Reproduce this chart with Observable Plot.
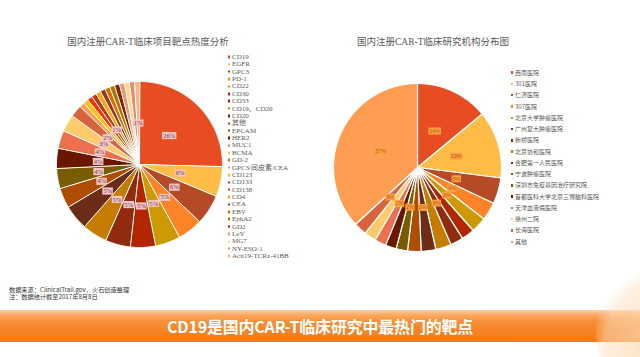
<!DOCTYPE html>
<html><head><meta charset="utf-8">
<script src="https://cdn.jsdelivr.net/npm/d3@7"></script>
<script src="https://cdn.jsdelivr.net/npm/@observablehq/plot@0.6"></script>
<style>
html,body{margin:0;padding:0;background:#fff;}
#page{position:relative;width:640px;height:357px;overflow:hidden;background:#fff;}
.title{position:absolute;font-family:"Liberation Serif","Noto Sans CJK SC",serif;font-size:9.5px;color:#595959;white-space:nowrap;transform:translate(-50%,-50%);line-height:1;}
.pie{position:absolute;}
.leg{position:absolute;white-space:nowrap;color:#595959;line-height:1;}
.leg .row{position:absolute;left:0;transform:translateY(-50%);display:flex;align-items:center;}
.leg .mk{display:inline-block;margin-right:2px;}
.note{position:absolute;left:9px;font-family:"Noto Sans CJK SC",sans-serif;font-size:6.2px;color:#333;white-space:nowrap;line-height:6.4px;}
.banner{position:absolute;left:0;top:310px;width:640px;height:32px;
 background:linear-gradient(to bottom,#fbd3ac 0px,#f9ae6a 4px,#f7913a 11px,#f58223 22px,#f47b1e 32px);}
.banner span{position:absolute;left:50%;top:50%;transform:translate(-50%,-52%);color:#fff;font-family:"Noto Sans CJK SC",sans-serif;font-weight:700;font-size:16px;white-space:nowrap;letter-spacing:-0.2px;}
.deco{position:absolute;left:596px;top:262px;width:110px;height:140px;border-radius:50%;
 background:radial-gradient(circle at 70% 60%,rgba(252,214,170,0.9),rgba(252,225,195,0.5) 60%,rgba(255,255,255,0) 72%);}
</style></head><body><div id="page"></div>
<script>
// ---------- data ----------
const targetCats = ["CD19","EGFR","GPC3","PD-1","CD22","CD30","CD33","CD19、CD20","CD20","其他","EPCAM","HER2","MUC1","BCMA","GD-2","GPC3/间皮素/CEA","CD123","CD133","CD138","CD4","CEA","EBV","EphA2","GD2","LeY","MG7","NY-ESO-1","Acti19-TCRz-41BB"];
const targetShares = [26,6,6,5,5,5,5,5,5,4,4,4,3.6,3.4,2.4,1,1,1,1,1,1,1,1,1,1,1,1,1];
const targetLabelled = ["CD19","EGFR","GPC3","PD-1","CD22","CD30","CD33","CD19、CD20","CD20","其他","EPCAM","HER2","MUC1","BCMA","GD-2","CD138","Acti19-TCRz-41BB"];

const instCats = ["西南医院","301医院","仁济医院","307医院","北京大学肿瘤医院","广州复大肿瘤医院","新桥医院","北京协和医院","合肥第一人民医院","宁波肿瘤医院","深圳市免疫基因治疗研究院","首都医科大学北京三博脑科医院","天津血液病医院","徐州二院","长海医院","其他"];
const instShares = [14,13,5,3.5,3,2.5,2.5,3,2.8,2.6,2.2,2.1,2.2,2.3,2.5,36.8];
const instLabelled = ["西南医院","301医院","仁济医院","307医院","北京大学肿瘤医院","新桥医院","合肥第一人民医院","深圳市免疫基因治疗研究院","天津血液病医院","长海医院","其他"];

const titleLeft = "国内注册CAR-T临床项目靶点热度分析";
const titleRight = "国内注册CAR-T临床研究机构分布图";
const noteLines = ["数据来源：ClinicalTrail.gov，火石创造整理","注：数据统计截至2017年8月8日"];
const bannerText = "CD19是国内CAR-T临床研究中最热门的靶点";

// ---------- palette (Office "Red Orange" theme accents + lum variants) ----------
const themeAccents = ["#E84C22","#FFBD47","#B64926","#FF8427","#CC9900","#B22600"];
const lumSteps = [[1,0],[0.6,0],[0.8,0.2],[0.8,0],[0.6,0.4],[0.5,0]];
function palette(n){
  return d3.range(n).map(i=>{
    const [m,o] = lumSteps[Math.floor(i/6)%lumSteps.length];
    const c = d3.hsl(themeAccents[i%6]);
    c.l = c.l*m + o;
    return c.formatHex();
  });
}

const page = document.getElementById("page");

function boxSymbol(w,h){ return {draw(ctx){ ctx.rect(-w/2,-h/2,w,h); }}; }

function pieChart({cats, vals, colors, cx, cy, r, labelR, showLabel, boxFill, textFill, fontSize, fontFamily, charW, boxH, strokeW}){
  const total = d3.sum(vals);
  const pts = [], labels = [];
  let acc = 0;
  cats.forEach((c,i)=>{
    const a0 = acc/total*2*Math.PI; acc += vals[i]; const a1 = acc/total*2*Math.PI;
    pts.push({c, x:0, y:0});
    const n = Math.max(2, Math.ceil((a1-a0)/0.01));
    for(let k=0;k<=n;k++){ const a=a0+(a1-a0)*k/n; pts.push({c, x:Math.sin(a), y:Math.cos(a)}); }
    const am = (a0+a1)/2;
    if(showLabel(c)) labels.push({c, x:labelR*Math.sin(am), y:labelR*Math.cos(am), t:Math.round(vals[i])+"%"});
  });
  const m = 4, S = 2*r + 2*m;
  const lens = [...new Set(labels.map(d=>d.t.length))];
  const chart = Plot.plot({
    width:S, height:S, marginTop:m, marginBottom:m, marginLeft:m, marginRight:m,
    x:{domain:[-1,1], axis:null}, y:{domain:[-1,1], axis:null},
    color:{domain:cats, range:colors},
    style:{background:"transparent", overflow:"visible"},
    marks:[
      Plot.line(pts,{x:"x", y:"y", z:"c", fill:"c", stroke:"white", strokeWidth:strokeW, strokeLinejoin:"round", curve:"linear-closed"}),
      ...lens.map(L=>Plot.dot(labels.filter(d=>d.t.length===L),{x:"x", y:"y", symbol:boxSymbol(L*charW+3, boxH), fill:boxFill, stroke:"none"})),
      Plot.text(labels,{x:"x", y:"y", text:"t", fill:textFill, fontSize, fontFamily})
    ]
  });
  chart.classList.add("pie");
  chart.style.left = (cx - S/2) + "px";
  chart.style.top = (cy - S/2) + "px";
  page.appendChild(chart);
}

function legend(cats, colors, {left, top, step, fontSize, fontFamily, mk}){
  const box = document.createElement("div");
  box.className = "leg";
  box.style.left = left + "px"; box.style.top = "0px";
  box.style.fontSize = fontSize + "px"; box.style.fontFamily = fontFamily;
  cats.forEach((c,i)=>{
    const row = document.createElement("div");
    row.className = "row";
    row.style.top = (top + i*step) + "px";
    const s = document.createElement("span");
    s.className = "mk"; s.style.width = mk+"px"; s.style.height = mk+"px"; s.style.background = colors[i];
    row.appendChild(s);
    row.appendChild(document.createTextNode(c));
    box.appendChild(row);
  });
  page.appendChild(box);
}

function addTitle(text, x, y){
  const t = document.createElement("div"); t.className="title"; t.textContent=text;
  t.style.left = x+"px"; t.style.top = y+"px"; page.appendChild(t);
}

// ---------- left pie ----------
addTitle(titleLeft, 148, 43);
const colL = palette(targetCats.length);
pieChart({cats:targetCats, vals:targetShares, colors:colL, cx:139, cy:163.5, r:83, labelR:0.5,
  showLabel:c=>targetLabelled.includes(c), boxFill:"#f3c4c4", textFill:"#7d3a48",
  fontSize:6.6, fontFamily:"Liberation Serif, serif", charW:3.8, boxH:7.2, strokeW:1});
legend(targetCats, colL, {left:227.5, top:57, step:7.37, fontSize:7, fontFamily:"Liberation Serif, Noto Sans CJK SC, serif", mk:2.5});

// ---------- right pie ----------
addTitle(titleRight, 433, 43);
const colR = palette(instCats.length);
pieChart({cats:instCats, vals:instShares, colors:colR, cx:416.5, cy:166.5, r:84, labelR:0.48,
  showLabel:c=>instLabelled.includes(c), boxFill:"#f8a23e", textFill:"#c8561c",
  fontSize:5.5, fontFamily:"Liberation Sans, sans-serif", charW:3.2, boxH:7, strokeW:1.2});
legend(instCats, colR, {left:510.5, top:72.7, step:11.27, fontSize:6, fontFamily:"Noto Sans CJK SC, sans-serif", mk:2.5});

// ---------- notes & banner ----------
noteLines.forEach((t,i)=>{
  const n = document.createElement("div"); n.className="note"; n.textContent=t;
  n.style.top = (286.5 + i*7.5) + "px"; page.appendChild(n);
});
const deco = document.createElement("div"); deco.className="deco";
const ban = document.createElement("div"); ban.className="banner";
const bs = document.createElement("span"); bs.textContent = bannerText; ban.appendChild(bs);
page.appendChild(ban);
page.appendChild(deco);
</script>
</body></html>
